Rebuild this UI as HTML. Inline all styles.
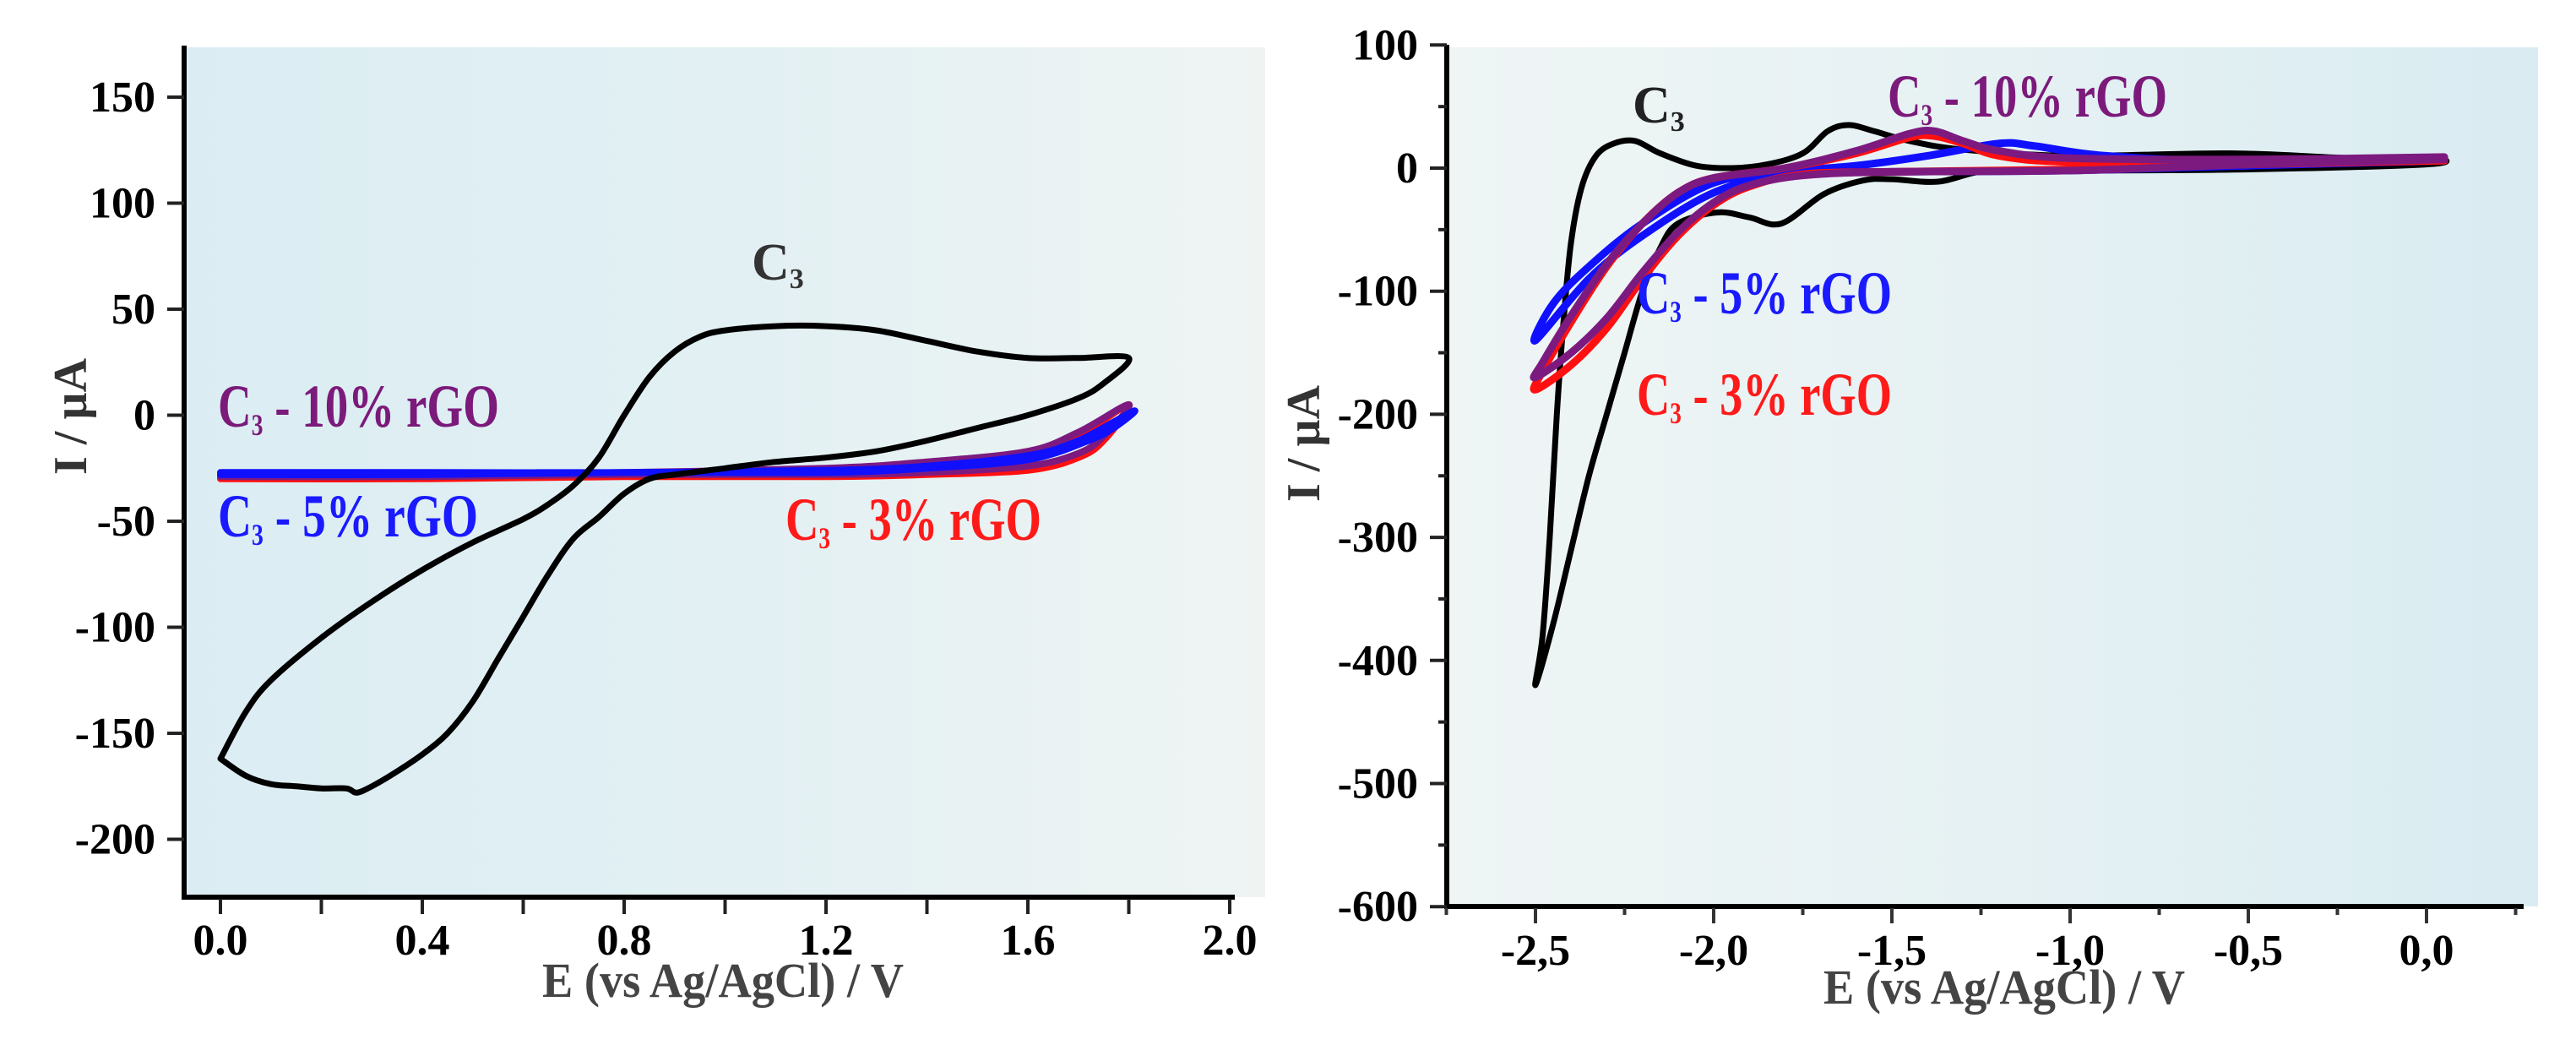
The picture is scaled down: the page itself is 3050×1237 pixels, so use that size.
<!DOCTYPE html>
<html><head><meta charset="utf-8">
<style>
html,body{margin:0;padding:0;background:#fff;}
svg{display:block;font-family:"Liberation Serif","DejaVu Serif",serif;font-weight:bold;}
</style></head>
<body>
<svg id="fig" width="3050" height="1237" viewBox="0 0 3050 1237" xmlns="http://www.w3.org/2000/svg">
<defs>
<linearGradient id="gl" x1="0" x2="1" y1="0" y2="0"><stop offset="0" stop-color="#dbedf3"/><stop offset="0.5" stop-color="#e2f0f3"/><stop offset="1" stop-color="#eff4f3"/></linearGradient>
<linearGradient id="gr" x1="0" x2="1" y1="0" y2="0"><stop offset="0" stop-color="#eff5f5"/><stop offset="0.5" stop-color="#e6f1f3"/><stop offset="1" stop-color="#d9ecf2"/></linearGradient>
</defs>
<g id="left">
<rect x="218" y="56" width="1280" height="1006" fill="url(#gl)"/>
<g id="lcurves"></g>
<g id="laxes"></g>
<text x="890" y="331" font-size="62" fill="#333">C<tspan font-size="34" dy="10">3</tspan></text>
<text x="258" y="505" font-size="72" fill="#7b1a7b" textLength="333" lengthAdjust="spacingAndGlyphs">C<tspan font-size="36" dy="10">3</tspan><tspan dy="-10"> - 10% rGO</tspan></text>
<text x="258" y="635" font-size="72" fill="#1a1aff" textLength="308" lengthAdjust="spacingAndGlyphs">C<tspan font-size="36" dy="10">3</tspan><tspan dy="-10"> - 5% rGO</tspan></text>
<text x="930" y="639" font-size="72" fill="#ff1a1a" textLength="303" lengthAdjust="spacingAndGlyphs">C<tspan font-size="36" dy="10">3</tspan><tspan dy="-10"> - 3% rGO</tspan></text>
<text x="856" y="1180" font-size="58" fill="#444" text-anchor="middle" textLength="428" lengthAdjust="spacingAndGlyphs">E (vs Ag/AgCl) / V</text>
<text transform="translate(102,493) rotate(-90)" font-size="56" fill="#333" text-anchor="middle">I / µA</text>
</g>
<g id="right">
<rect x="1713" y="56" width="1292" height="1017" fill="url(#gr)"/>
<g id="rcurves"></g>
<g id="raxes"></g>
<text x="1933" y="145" font-size="62" fill="#222">C<tspan font-size="34" dy="10">3</tspan></text>
<text x="2235" y="138" font-size="72" fill="#7b1a7b" textLength="331" lengthAdjust="spacingAndGlyphs">C<tspan font-size="36" dy="10">3</tspan><tspan dy="-10"> - 10% rGO</tspan></text>
<text x="1938" y="371" font-size="72" fill="#1a1aff" textLength="302" lengthAdjust="spacingAndGlyphs">C<tspan font-size="36" dy="10">3</tspan><tspan dy="-10"> - 5% rGO</tspan></text>
<text x="1938" y="491" font-size="72" fill="#ff1a1a" textLength="302" lengthAdjust="spacingAndGlyphs">C<tspan font-size="36" dy="10">3</tspan><tspan dy="-10"> - 3% rGO</tspan></text>
<text x="2373" y="1188" font-size="58" fill="#444" text-anchor="middle" textLength="428" lengthAdjust="spacingAndGlyphs">E (vs Ag/AgCl) / V</text>
<text transform="translate(1562,525) rotate(-90)" font-size="56" fill="#333" text-anchor="middle">I / µA</text>
</g>
</svg>
<script>
// ---- Left chart data (E in V, I in µA) ----
const leftC3E = [0,0.05,0.1,0.2,0.3,0.4,0.5,0.6,0.65,0.7,0.75,0.8,0.85,0.9,0.95,1.0,1.1,1.2,1.3,1.4,1.5,1.6,1.7,1.8,1.75,1.7,1.6,1.5,1.4,1.3,1.2,1.1,1.0,0.9,0.85,0.8,0.75,0.7,0.65,0.6,0.55,0.5,0.45,0.4,0.35,0.3,0.27,0.25,0.2,0.15,0.1,0.05,0];
const leftC3I = [-162,-140,-125,-105,-88,-73,-60,-49,-42,-33,-20,0,18,30,37,40,42,42,40,35,30,27,27,27,15,8,0,-6,-12,-17,-20,-22,-25,-28,-30,-37,-48,-58,-75,-95,-115,-135,-150,-160,-168,-175,-178,-176,-176,-175,-174,-170,-162];
const leftRedE = [0,0.4,0.8,1.2,1.4,1.6,1.7,1.8,1.75,1.7,1.6,1.4,1.2,0.8,0.4,0];
const leftRedI = [-29,-29,-28,-26,-24,-20,-10,5,-12,-20,-26,-28,-29,-29,-30,-30];
const leftPurE = [0,0.4,0.8,1.2,1.4,1.6,1.7,1.8,1.75,1.7,1.6,1.4,1.2,0.8,0.4,0];
const leftPurI = [-28,-28,-27,-25,-22,-17,-8,5,-10,-18,-24,-27,-28,-28,-29,-29];
const leftBluE = [0,0.4,0.8,1.2,1.4,1.6,1.7,1.81,1.77,1.72,1.6,1.4,1.2,0.8,0.4,0];
const leftBluI = [-27,-27,-27,-26,-24,-19,-12,2,-6,-12,-21,-25,-27,-27,-28,-28];
const leftXTicks = [0.0,0.4,0.8,1.2,1.6,2.0];
const leftXLabels = ["0.0","0.4","0.8","1.2","1.6","2.0"];
const leftYTicks = [150,100,50,0,-50,-100,-150,-200];
const leftYLabels = ["150","100","50","0","-50","-100","-150","-200"];

// ---- Right chart data ----
const rightC3E = [0.05,0,-0.5,-1.0,-1.23,-1.37,-1.5,-1.58,-1.69,-1.81,-1.9,-1.99,-2.1,-2.15,-2.2,-2.25,-2.3,-2.35,-2.4,-2.45,-2.5,-2.48,-2.46,-2.44,-2.42,-2.4,-2.37,-2.33,-2.28,-2.22,-2.15,-2.05,-1.95,-1.85,-1.75,-1.68,-1.62,-1.55,-1.45,-1.3,-1.0,-0.55,-0.2,0.05];
const rightC3I = [8,3,-1,-2,-2,-11,-9,-10,-21,-45,-40,-36,-45,-65,-100,-150,-200,-250,-310,-370,-420,-380,-300,-200,-120,-60,-15,10,20,22,12,2,0,3,12,30,35,30,22,15,10,12,8,8];
const rightRedE = [0.05,-0.5,-1.0,-1.5,-1.75,-1.9,-2.0,-2.1,-2.2,-2.3,-2.4,-2.5,-2.48,-2.4,-2.3,-2.2,-2.1,-2.0,-1.8,-1.6,-1.45,-1.38,-1.3,-1.2,-1.0,-0.5,0.05];
const rightRedI = [6,3,-1,-3,-5,-15,-30,-55,-90,-130,-160,-180,-165,-125,-80,-45,-20,-8,0,12,25,26,20,10,5,5,8];
const rightPurE = [0.05,-0.5,-1.0,-1.5,-1.75,-1.9,-2.0,-2.1,-2.2,-2.3,-2.4,-2.5,-2.48,-2.4,-2.3,-2.2,-2.1,-2.0,-1.8,-1.6,-1.45,-1.38,-1.3,-1.2,-1.0,-0.5,0.05];
const rightPurI = [7,3,-2,-3,-6,-14,-28,-52,-85,-122,-150,-170,-158,-120,-78,-45,-20,-8,0,14,28,30,22,14,8,7,9];
const rightBluE = [0.05,-0.5,-1.0,-1.5,-1.8,-2.0,-2.2,-2.35,-2.5,-2.45,-2.35,-2.2,-2.0,-1.8,-1.6,-1.4,-1.2,-1.1,-0.9,-0.5,0.05];
const rightBluI = [6,2,-2,-3,-5,-20,-55,-90,-140,-110,-80,-45,-12,-3,2,10,20,18,10,5,7];
const rightXTicks = [-2.5,-2.0,-1.5,-1.0,-0.5,0.0];
const rightXLabels = ["-2,5","-2,0","-1,5","-1,0","-0,5","0,0"];
const rightYTicks = [100,0,-100,-200,-300,-400,-500,-600];
const rightYLabels = ["100","0","-100","-200","-300","-400","-500","-600"];

const NS = "http://www.w3.org/2000/svg";
const lx = v => 261 + 597.5 * v;
const ly = v => 491.5 - 2.51 * v;
const rx = v => 2873 + 422 * v;
const ry = v => 199 - 1.457 * v;

function mk(tag, attrs, parent) {
  const el = document.createElementNS(NS, tag);
  for (const k in attrs) el.setAttribute(k, attrs[k]);
  parent.appendChild(el);
  return el;
}
function smoothPath(xs, ys) {
  const p = xs.map((x, i) => [x, ys[i]]);
  let d = "M" + p[0][0].toFixed(1) + "," + p[0][1].toFixed(1);
  for (let i = 0; i < p.length - 1; i++) {
    const p0 = p[Math.max(0, i - 1)], p1 = p[i], p2 = p[i + 1], p3 = p[Math.min(p.length - 1, i + 2)];
    const t = 6;
    const c1 = [p1[0] + (p2[0] - p0[0]) / t, p1[1] + (p2[1] - p0[1]) / t];
    const c2 = [p2[0] - (p3[0] - p1[0]) / t, p2[1] - (p3[1] - p1[1]) / t];
    d += " C" + c1.map(v => v.toFixed(1)).join(",") + " " + c2.map(v => v.toFixed(1)).join(",") + " " + p2[0].toFixed(1) + "," + p2[1].toFixed(1);
  }
  return d;
}
function curve(parent, E, I, fx, fy, color, w, name) {
  const el = mk("path", {d: smoothPath(E.map(fx), I.map(fy)), fill: "none", stroke: color, "stroke-width": w, "stroke-linejoin": "round", "stroke-linecap": "round"}, parent);
  
  
}
const lc = document.getElementById("lcurves");
curve(lc, leftRedE, leftRedI, lx, ly, "#ff1010", 8, "left-series-3pct-rgo");
curve(lc, leftPurE, leftPurI, lx, ly, "#7d1a80", 8, "left-series-10pct-rgo");
curve(lc, leftBluE, leftBluI, lx, ly, "#1010ff", 8, "left-series-5pct-rgo");
curve(lc, leftC3E, leftC3I, lx, ly, "#000", 7, "left-series-c3");
const rc = document.getElementById("rcurves");
curve(rc, rightC3E, rightC3I, rx, ry, "#000", 7, "right-series-c3");
curve(rc, rightBluE, rightBluI, rx, ry, "#1010ff", 9, "right-series-5pct-rgo");
curve(rc, rightRedE, rightRedI, rx, ry, "#ff1010", 9, "right-series-3pct-rgo");
curve(rc, rightPurE, rightPurI, rx, ry, "#7d1a80", 9, "right-series-10pct-rgo");

// axes
const la = document.getElementById("laxes");
let e;
e = mk("line", {x1: 218, y1: 54, x2: 218, y2: 1064, stroke: "#000", "stroke-width": 6}, la);
 
e = mk("line", {x1: 215, y1: 1062, x2: 1462, y2: 1062, stroke: "#000", "stroke-width": 6}, la);
 
for (let v = 0; v <= 2.001; v += 0.2) {
  e = mk("line", {x1: lx(v), y1: 1064, x2: lx(v), y2: 1082, stroke: "#222", "stroke-width": 4}, la);
   
}
leftXTicks.forEach((v, i) => {
  e = mk("text", {x: lx(v), y: 1130, "font-size": 52, "text-anchor": "middle", fill: "#000"}, la);
  e.textContent = leftXLabels[i];
   
});
leftYTicks.forEach((v, i) => {
  e = mk("line", {x1: 198, y1: ly(v), x2: 218, y2: ly(v), stroke: "#222", "stroke-width": 4}, la);
   
  e = mk("text", {x: 184, y: ly(v) + 17, "font-size": 52, "text-anchor": "end", fill: "#000"}, la);
  e.textContent = leftYLabels[i];
   
});
const ra = document.getElementById("raxes");
e = mk("line", {x1: 1713, y1: 53, x2: 1713, y2: 1076, stroke: "#000", "stroke-width": 6}, ra);
 
e = mk("line", {x1: 1710, y1: 1073, x2: 2988, y2: 1073, stroke: "#000", "stroke-width": 6}, ra);
 
for (let v = -2.75; v <= 0.26; v += 0.25) {
  const major = Math.abs(v * 2 - Math.round(v * 2)) < 0.01;
  e = mk("line", {x1: rx(v), y1: 1075, x2: rx(v), y2: major ? 1093 : 1083, stroke: "#333", "stroke-width": 4}, ra);
   
}
rightXTicks.forEach((v, i) => {
  e = mk("text", {x: rx(v), y: 1142, "font-size": 52, "text-anchor": "middle", fill: "#000"}, ra);
  e.textContent = rightXLabels[i];
   
});
for (let v = 100; v >= -600; v -= 50) {
  const major = v % 100 === 0;
  e = mk("line", {x1: major ? 1693 : 1703, y1: ry(v), x2: 1713, y2: ry(v), stroke: "#222", "stroke-width": 4}, ra);
   
}
rightYTicks.forEach((v, i) => {
  e = mk("text", {x: 1679, y: ry(v) + 17, "font-size": 52, "text-anchor": "end", fill: "#000"}, ra);
  e.textContent = rightYLabels[i];
   
});
</script>
</body></html>
